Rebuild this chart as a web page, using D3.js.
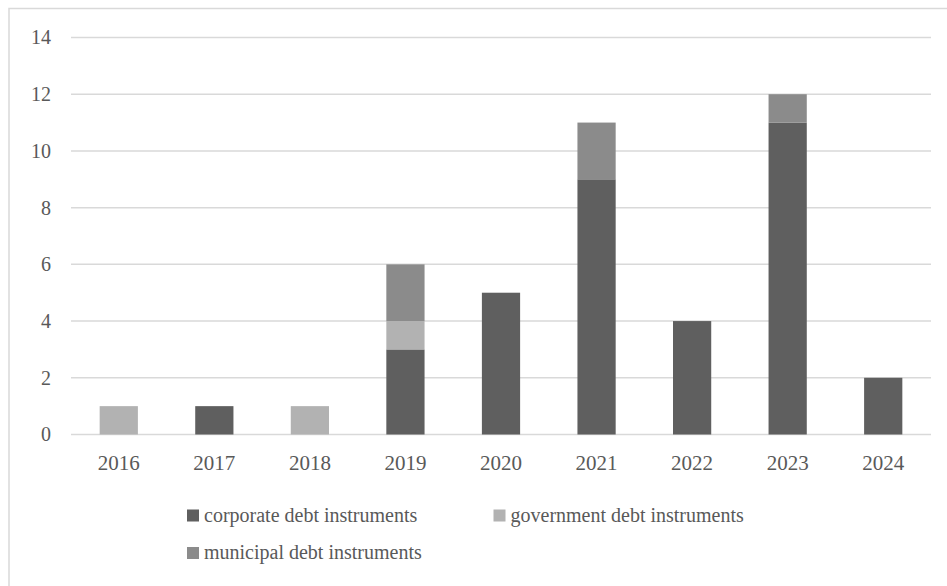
<!DOCTYPE html>
<html>
<head>
<meta charset="utf-8">
<script src="https://cdn.jsdelivr.net/npm/d3@7"></script>
<style>
  html, body { margin: 0; padding: 0; background: #ffffff; }
  svg { display: block; }
</style>
</head>
<body>
<svg id="chart" width="947" height="586"></svg>
<script>
// Number of debt instruments per year, by type
const years = ["2016", "2017", "2018", "2019", "2020", "2021", "2022", "2023", "2024"];
const corporate = [0, 1, 0, 3, 5, 9, 4, 11, 2];
const government = [1, 0, 1, 1, 0, 0, 0, 0, 0];
const municipal = [0, 0, 0, 2, 0, 2, 0, 1, 0];
const seriesNames = ["corporate debt instruments", "government debt instruments", "municipal debt instruments"];
const yTicks = [0, 2, 4, 6, 8, 10, 12, 14];

const colors = ["#5f5f5f", "#b2b2b2", "#8b8b8b"];
const FONT = "Liberation Serif";
const TEXT_COLOR = "#595959";

const svg = d3.select("#chart");

// chart frame (runs off the right and bottom edges)
svg.append("rect")
  .attr("x", 9).attr("y", 8.5)
  .attr("width", 960).attr("height", 600)
  .attr("fill", "none")
  .attr("stroke", "#d9d9d9")
  .attr("stroke-width", 1.5);

const x = d3.scaleBand()
  .domain(years)
  .range([71, 931])
  .paddingInner(0.6)
  .paddingOuter(0.3);

const y = d3.scaleLinear()
  .domain([0, 14])
  .range([434.5, 37.5]);

// horizontal gridlines
svg.append("g")
  .selectAll("line")
  .data(yTicks)
  .join("line")
  .attr("x1", 71).attr("x2", 931)
  .attr("y1", d => y(d)).attr("y2", d => y(d))
  .attr("stroke", "#d9d9d9")
  .attr("stroke-width", 1.5);

// y axis labels
const yAxis = d3.axisLeft(y).tickValues(yTicks).tickSize(0).tickPadding(0);
svg.append("g")
  .attr("transform", "translate(51,0)")
  .call(yAxis)
  .call(g => g.select(".domain").remove())
  .call(g => g.selectAll("text")
    .style("font-family", FONT)
    .style("font-size", "20px")
    .style("fill", TEXT_COLOR));

// x axis labels
const xAxis = d3.axisBottom(x).tickSize(0).tickPadding(0);
svg.append("g")
  .attr("transform", "translate(0,455)")
  .call(xAxis)
  .call(g => g.select(".domain").remove())
  .call(g => g.selectAll("text")
    .style("font-family", FONT)
    .style("font-size", "21px")
    .style("fill", TEXT_COLOR));

// stacked bars
const table = years.map((yr, i) => ({
  year: yr,
  [seriesNames[0]]: corporate[i],
  [seriesNames[1]]: government[i],
  [seriesNames[2]]: municipal[i]
}));
const stacked = d3.stack().keys(seriesNames)(table);

svg.append("g")
  .selectAll("g")
  .data(stacked)
  .join("g")
  .attr("fill", (d, i) => colors[i])
  .selectAll("rect")
  .data(d => d.filter(s => s[1] > s[0]))
  .join("rect")
  .attr("x", d => x(d.data.year))
  .attr("width", x.bandwidth())
  .attr("y", d => y(d[1]))
  .attr("height", d => y(d[0]) - y(d[1]));

// legend
const legendItems = [
  { name: seriesNames[0], color: colors[0], x: 187, y: 509.5 },
  { name: seriesNames[1], color: colors[1], x: 493.5, y: 509.5 },
  { name: seriesNames[2], color: colors[2], x: 187, y: 547 }
];
const legend = svg.append("g")
  .selectAll("g")
  .data(legendItems)
  .join("g")
  .attr("transform", d => `translate(${d.x},${d.y})`);
legend.append("rect")
  .attr("width", 12).attr("height", 12)
  .attr("fill", d => d.color);
legend.append("text")
  .attr("x", 17).attr("y", 12)
  .style("font-family", FONT)
  .style("font-size", "20px")
  .style("fill", TEXT_COLOR)
  .text(d => d.name);
</script>
</body>
</html>
